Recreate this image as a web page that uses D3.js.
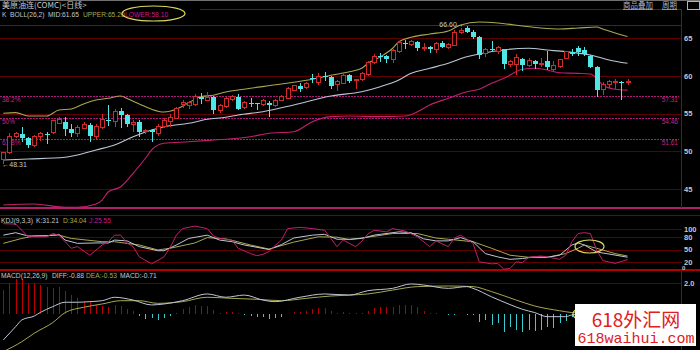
<!DOCTYPE html>
<html>
<head>
<meta charset="utf-8">
<script src="https://cdn.jsdelivr.net/npm/d3@7"></script>
<style>
  body { margin: 0; background: #000; }
  svg { display: block; font-family: "Liberation Sans", Arial, sans-serif; }
</style>
</head>
<body>
<div id="chart"></div>
<script>
// daily candles, [open, high, low, close]
var ohlc = [
  [48.85,49.9,48.31,49.8],[49.8,52.4,49.7,52.0],[51.9,52.6,51.7,52.3],[52.3,53.25,51.2,51.7],[51.7,51.9,50.4,50.85],
  [50.7,52.1,50.6,52.0],[52.0,52.5,51.3,52.35],[52.35,52.6,51.0,52.25],[52.45,54.2,52.3,54.05],[53.7,54.5,53.6,54.25],
  [53.9,54.5,52.0,52.95],[52.95,53.6,51.9,52.4],[52.3,53.5,51.9,53.2],[53.05,53.9,52.9,53.6],[53.5,53.7,51.2,52.0],
  [51.9,53.6,51.5,53.25],[53.2,54.9,53.0,54.25],[54.2,56.1,53.3,53.95],[53.9,55.6,53.2,55.3],[55.3,55.7,53.1,54.8],
  [54.8,55.0,53.2,53.6],[53.6,54.2,52.5,53.8],[53.9,54.2,51.9,52.6],[52.6,53.0,52.3,52.75],[52.75,52.9,51.2,52.6],
  [52.4,53.6,52.0,53.25],[53.25,54.4,53.1,54.05],[53.9,54.9,53.2,54.5],[54.4,55.9,54.3,55.7],[56.25,56.8,55.7,56.5],
  [56.1,56.7,55.6,56.4],[56.25,57.6,56.0,57.3],[57.2,57.7,56.3,56.9],[56.7,57.9,56.6,57.15],[57.15,57.3,55.0,55.4],
  [55.4,56.3,55.1,56.0],[55.9,57.2,55.7,56.95],[56.8,57.5,56.6,57.2],[57.2,57.6,55.4,55.6],[55.8,56.6,55.6,56.45],
  [56.45,57.0,55.9,56.4],[56.4,56.4,55.5,56.25],[56.15,56.9,56.0,56.7],[56.4,56.6,54.5,56.1],[56.0,56.9,55.9,56.7],
  [56.7,57.4,56.6,57.2],[57.05,58.5,57.0,58.3],[58.1,58.8,58.0,58.65],[58.6,59.0,57.8,58.3],[58.5,59.2,58.3,59.0],
  [59.65,60.2,59.0,59.55],[59.1,60.3,58.8,59.95],[59.95,60.5,59.3,59.9],[59.9,60.0,58.3,58.65],[58.8,59.4,58.0,59.2],
  [59.0,60.3,58.9,60.05],[60.05,60.2,59.0,59.35],[59.35,59.5,58.2,59.45],[59.45,60.5,59.3,60.25],[60.15,62.0,60.0,61.7],
  [61.7,62.9,61.5,62.6],[62.6,63.0,61.8,62.5],[62.55,62.7,61.7,62.2],[62.1,63.5,61.7,63.3],[63.2,64.6,63.0,64.4],
  [64.4,64.8,63.5,64.3],[64.1,64.8,64.0,64.5],[64.45,64.6,63.3,63.65],[63.65,64.3,63.3,63.75],[63.8,63.9,63.0,63.5],
  [63.5,64.5,63.0,64.3],[64.3,64.6,63.7,63.8],[63.75,64.3,63.5,64.1],[64.0,66.0,63.9,65.7],[65.7,66.3,65.5,66.05],
  [66.3,66.6,65.6,65.75],[65.8,66.0,64.9,65.1],[65.1,65.2,62.2,62.75],[62.9,63.7,62.5,63.5],[63.55,64.6,63.1,63.45],
  [63.25,63.9,62.9,63.75],[63.5,63.6,60.85,61.55],[61.45,62.1,61.2,61.85],[61.45,62.9,60.1,62.45],[62.2,62.3,60.6,61.45],
  [61.4,62.3,61.2,62.0],[62.0,62.1,60.9,61.6],[61.5,62.4,61.1,61.6],[61.9,63.3,60.8,61.1],[60.85,62.0,60.6,61.3],
  [61.2,62.2,61.0,62.1],[62.3,63.3,62.2,63.2],[63.2,63.6,62.6,62.9],[63.65,63.9,62.6,63.2],[63.4,63.8,62.6,62.9],
  [62.6,62.7,61.0,61.2],[61.2,61.3,57.2,58.1],[58.2,59.2,57.45,58.9],[58.8,59.4,58.4,59.2],[59.15,59.6,58.3,59.25],
  [59.2,59.25,56.8,59.1],[59.15,59.6,58.8,59.25]
];

// BOLL(26,2) bands, [bar index, value]
var bollUpper = [[0,55.03],[2,55.11],[4,54.67],[7,54.67],[9,55.46],[11,55.6],[13,56.26],[15,56.79],[17,57.01],[19,57.32],
  [20,57.0],[22,56.26],[24,55.56],[26,55.2],[28,55.56],[30,56.43],[32,57.23],[34,57.41],[36,57.85],[38,58.11],
  [45,58.91],[50,59.53],[53,60.06],[56,60.54],[58,60.99],[59,61.65],[61,62.5],[63,63.64],[64,64.5],[66,65.09],
  [69,65.53],[72,65.93],[74,66.72],[77,67.12],[80,66.99],[84,66.59],[87,66.32],[90,66.19],[93,66.32],[96,66.46],
  [97,66.19],[99,65.66],[101,65.2]];
var bollMid = [[0,48.84],[4,48.97],[10,49.2],[12,49.5],[15,50.17],[18,50.83],[21,51.93],[24,52.81],[26,53.25],[30,53.7],
  [33,54.23],[36,54.5],[38,54.8],[42,55.24],[47,56.13],[53,57.32],[58,57.89],[61,58.55],[64,59.44],[66,60.32],
  [69,60.99],[72,61.65],[75,62.52],[77,62.88],[80,63.32],[85,63.64],[88,63.41],[91,63.19],[95,62.75],[98,62.09],[101,61.65]];
var bollLower = [[0,42.88],[5,43.01],[10,42.58],[12,42.58],[15,43.01],[16,43.54],[17,44.64],[19,45.3],[21,47.08],[23,49.07],
  [24,50.17],[26,51.05],[30,51.26],[34,51.49],[38,51.72],[40,51.93],[43,52.38],[47,52.59],[50,53.91],[53,54.58],
  [56,54.67],[61,54.58],[65,54.67],[67,55.24],[69,56.13],[72,57.01],[75,57.89],[77,58.21],[79,59.0],[81,59.66],
  [84,60.85],[86,60.99],[88,60.76],[90,60.4],[93,60.32],[95,60.23],[96,59.66],[97,58.77],[99,58.21],[101,58.1]];

// Fibonacci retracement levels
var fibPct = ["38.2%", "50%", "61.8%"];
var fibVal = [57.31, 54.46, 51.61];

// KDJ(9,3,3), [bar index, value]
var kdjK = [[0,85],[2,91],[4,83],[7,83],[9,87],[10,73],[12,65],[15,66],[17,66],[18,73],[20,71],[22,57],[25,47],[26,47],
  [28,61],[30,77],[33,85],[35,73],[37,69],[39,61],[43,50],[45,62],[47,78],[50,85],[52,87],[54,75],[56,75],[58,77],
  [60,85],[61,87],[64,93],[66,91],[68,76],[70,71],[72,71],[74,79],[76,69],[78,40],[80,32],[82,26],[84,28],[86,32],
  [88,31],[90,36],[92,61],[93,66],[94,61],[96,44],[98,39],[101,31.21]];
var kdjD = [[0,65],[3,77],[5,83],[9,85],[11,77],[16,69],[18,69],[22,61],[25,49],[27,53],[31,66],[33,79],[36,76],
  [40,61],[43,51],[47,68],[51,81],[54,80],[56,74],[59,80],[63,89],[67,89],[70,78],[72,75],[76,69],[79,53],[82,36],
  [85,31],[88,31],[91,40],[93,53],[94,61],[96,53],[99,40],[101,34.04]];
var kdjJ = [[0,113],[2,112],[3,97],[4,81],[7,81],[8,89],[9,85],[11,53],[12,57],[14,36],[16,61],[17,69],[18,85],[19,85],
  [20,66],[21,57],[22,32],[24,15],[26,32],[27,55],[28,85],[29,101],[31,107],[33,101],[34,83],[35,77],[37,73],[38,53],
  [40,40],[41,35],[42,38],[43,45],[44,60],[45,73],[46,101],[48,104],[50,101],[52,97],[53,77],[54,57],[55,73],[57,57],
  [58,70],[59,88],[60,97],[62,93],[63,101],[65,95],[67,81],[69,57],[70,71],[72,57],[73,78],[74,85],[75,75],[76,65],
  [77,20],[79,15],[80,16],[81,2],[82,4],[83,20],[84,18],[85,31],[87,34],[88,32],[90,26],[91,36],[92,69],[93,89],
  [94,91],[95,89],[96,49],[97,23],[99,16],[101,25.55]];

// MACD(12,26,9)
var macdDiff = [[0,-1.66],[2,-0.81],[3,-0.38],[5,-0.13],[6,0.1],[8,0.47],[10,0.75],[12,0.75],[14,0.79],[16,0.85],
  [18,1.07],[21,0.89],[24,0.58],[26,0.64],[29,0.85],[33,1.28],[36,1.07],[39,1.21],[42,0.89],[44,0.79],[48,1.07],
  [52,1.28],[56,1.21],[59,1.49],[63,1.64],[66,1.92],[68,1.85],[72,1.64],[75,1.75],[76,1.64],[79,1.1],[82,0.6],
  [84,0.3],[86,0.09],[88,-0.17],[91,-0.17],[92,-0.06],[94,0.0],[95,-0.1],[96,-0.4],[98,-0.65],[101,-0.88]];
var macdDea = [[0,-2.4],[3,-1.77],[5,-1.23],[8,-0.55],[10,0.09],[13,0.43],[16,0.64],[19,0.85],[22,0.85],[25,0.68],
  [29,0.79],[33,1.07],[37,1.0],[41,0.94],[45,0.85],[49,1.0],[53,1.15],[56,1.21],[59,1.28],[63,1.53],[67,1.75],
  [72,1.79],[76,1.75],[79,1.43],[83,0.89],[86,0.51],[90,0.21],[92,0.09],[95,0.0],[98,-0.3],[101,-0.53]];
var macdHist = [1.53,2.0,2.22,2.22,2.0,1.96,1.85,1.7,1.64,1.75,1.49,1.21,1.0,0.85,0.79,0.58,0.51,0.47,0.58,0.51,
  0.3,0.17,-0.13,-0.34,-0.28,-0.38,-0.28,-0.13,0.09,0.3,0.43,0.58,0.51,0.51,0.26,0.09,0.13,0.15,0.04,-0.09,
  -0.13,-0.21,-0.21,-0.3,-0.28,-0.17,0.02,0.13,0.15,0.21,0.3,0.36,0.36,0.21,0.09,0.13,0.06,0.04,0.06,0.21,
  0.36,0.43,0.43,0.47,0.6,0.6,0.6,0.43,0.21,0.09,0.04,0.02,-0.09,-0.04,-0.02,-0.06,-0.04,-0.49,-0.38,-0.7,
  -0.55,-1.13,-0.81,-1.02,-1.13,-1.02,-1.06,-1.02,-0.85,-0.92,-0.6,-0.43,-0.17,-0.05,0.03,-0.1,-0.35,-0.5,-0.58,-0.64,
  -0.69,-0.71];

var priceTicks = [45, 50, 55, 60, 65];
var kdjTicks = [0, 20, 50, 80, 100];
var macdTicks = [2];

// colours
var grid = "#5c0000", border = "#a00000", upCol = "#d02a2a", downCol = "#4ee6e6";
var yel = "#a8a852", pale = "#bcc6d4", mag = "#c0206e", label = "#c4c8cc";

var W = 700, H = 350, axisX = 681.5;

var svg = d3.select("#chart").append("svg")
  .attr("width", W).attr("height", H)
  .style("background", "#000");

var x = d3.scaleLinear().domain([0, ohlc.length - 1]).range([3.3, 627.5]);
var yP = d3.scaleLinear().domain([45, 65]).range([189, 38]);
var yK = d3.scaleLinear().domain([0, 100]).range([270, 229]);
var yM = d3.scaleLinear().domain([0, 2]).range([314, 282.7]);

function px(v) { return Math.round(v) + 0.5; }

// ---- frame and grid lines
var frame = svg.append("g").attr("shape-rendering", "crispEdges");
frame.append("line").attr("x1", 0).attr("x2", W).attr("y1", 0.5).attr("y2", 0.5).attr("stroke", "#707070");
frame.append("line").attr("x1", 200).attr("x2", axisX).attr("y1", 9.5).attr("y2", 9.5).attr("stroke", border);
frame.append("line").attr("x1", 0).attr("x2", axisX).attr("y1", 25.5).attr("y2", 25.5).attr("stroke", border);
frame.selectAll(".pg").data(priceTicks).join("line")
  .attr("x1", 0).attr("x2", axisX).attr("y1", d => px(yP(d))).attr("y2", d => px(yP(d)))
  .attr("stroke", grid);
frame.append("line").attr("x1", 0).attr("x2", W).attr("y1", 208).attr("y2", 208).attr("stroke", "#b0206a").attr("stroke-width", 2);
frame.append("line").attr("x1", 0).attr("x2", W).attr("y1", 215.5).attr("y2", 215.5).attr("stroke", "#800000");
frame.selectAll(".kg").data(kdjTicks.filter(d => d > 0)).join("line")
  .attr("x1", 0).attr("x2", axisX).attr("y1", d => px(yK(d))).attr("y2", d => px(yK(d)))
  .attr("stroke", grid);
frame.append("line").attr("x1", 0).attr("x2", W).attr("y1", 270).attr("y2", 270).attr("stroke", "#b00000").attr("stroke-width", 2);
frame.selectAll(".mg").data(macdTicks).join("line")
  .attr("x1", 0).attr("x2", axisX).attr("y1", d => px(yM(d))).attr("y2", d => px(yM(d)))
  .attr("stroke", grid);
frame.append("line").attr("x1", axisX).attr("x2", axisX).attr("y1", 9).attr("y2", 208).attr("stroke", border);
frame.append("line").attr("x1", axisX).attr("x2", axisX).attr("y1", 270).attr("y2", H).attr("stroke", border);

// ---- fibonacci dotted levels
var fib = svg.append("g");
fib.selectAll("line").data(fibVal).join("line")
  .attr("x1", 0).attr("x2", 679).attr("y1", d => px(yP(d))).attr("y2", d => px(yP(d)))
  .attr("stroke", "#b0187e").attr("stroke-dasharray", "1.5,1.5").attr("shape-rendering", "crispEdges");
fib.selectAll(".fl").data(fibPct).join("text")
  .attr("x", 2).attr("y", (d, i) => yP(fibVal[i]) + 6)
  .attr("fill", "#c0288a").attr("font-size", "6.5px").text(d => d);
fib.selectAll(".fr").data(fibVal).join("text")
  .attr("x", 678).attr("y", d => yP(d) + 6).attr("text-anchor", "end")
  .attr("fill", "#c0288a").attr("font-size", "6.5px").text(d => d.toFixed(2));

// ---- bollinger bands
function bandLine(sc) {
  return d3.line().x(d => x(d[0])).y(d => sc(d[1])).curve(d3.curveMonotoneX);
}
svg.append("path").attr("d", bandLine(yP)(bollUpper)).attr("fill", "none").attr("stroke", yel).attr("stroke-width", 1.1);
svg.append("path").attr("d", bandLine(yP)(bollMid)).attr("fill", "none").attr("stroke", pale).attr("stroke-width", 1.1);
svg.append("path").attr("d", bandLine(yP)(bollLower)).attr("fill", "none").attr("stroke", mag).attr("stroke-width", 1.1);

// ---- candles
var cg = svg.append("g").attr("shape-rendering", "crispEdges");
var candle = cg.selectAll("g").data(ohlc).join("g");
candle.append("line")
  .attr("x1", (d, i) => px(x(i))).attr("x2", (d, i) => px(x(i)))
  .attr("y1", d => yP(d[1])).attr("y2", d => yP(d[2]))
  .attr("stroke", d => d[3] >= d[0] ? upCol : downCol);
candle.append("rect")
  .attr("x", (d, i) => d[3] >= d[0] ? Math.round(x(i)) - 1.5 : Math.round(x(i)) - 2)
  .attr("width", d => d[3] >= d[0] ? 4 : 5)
  .attr("y", d => yP(Math.max(d[0], d[3])))
  .attr("height", d => Math.max(1, Math.abs(yP(d[0]) - yP(d[3]))))
  .attr("fill", d => d[3] >= d[0] ? "#000" : downCol)
  .attr("stroke", d => d[3] >= d[0] ? upCol : "none");

// high / low markers
var hiIdx = d3.maxIndex(ohlc, d => d[1]), loIdx = d3.minIndex(ohlc, d => d[2]);
svg.append("text").attr("x", x(hiIdx) - 3).attr("y", yP(ohlc[hiIdx][1]) + 1)
  .attr("text-anchor", "end").attr("fill", label).attr("font-size", "7px")
  .text(ohlc[hiIdx][1].toFixed(2) + "\u2192");
svg.append("text").attr("x", x(loIdx) - 1).attr("y", yP(ohlc[loIdx][2]) + 2.5)
  .attr("fill", label).attr("font-size", "7px")
  .text("\u2190" + ohlc[loIdx][2].toFixed(2));

// ---- KDJ
function kLine(sc) { return d3.line().x(d => x(d[0])).y(d => sc(d[1])); }
svg.append("path").attr("d", kLine(yK)(kdjD)).attr("fill", "none").attr("stroke", yel).attr("stroke-width", 1);
svg.append("path").attr("d", kLine(yK)(kdjK)).attr("fill", "none").attr("stroke", pale).attr("stroke-width", 1);
svg.append("path").attr("d", kLine(yK)(kdjJ)).attr("fill", "none").attr("stroke", mag).attr("stroke-width", 1);

// ---- MACD
svg.append("g").attr("shape-rendering", "crispEdges")
  .selectAll("line").data(macdHist).join("line")
  .attr("x1", (d, i) => px(x(i))).attr("x2", (d, i) => px(x(i)))
  .attr("y1", yM(0)).attr("y2", d => yM(d))
  .attr("stroke", d => d >= 0 ? "#b80000" : "#3ccad2");
svg.append("path").attr("d", bandLine(yM)(macdDea)).attr("fill", "none").attr("stroke", yel).attr("stroke-width", 1);
svg.append("path").attr("d", bandLine(yM)(macdDiff)).attr("fill", "none").attr("stroke", pale).attr("stroke-width", 1);

// ---- right axes
function styleAxis(g) {
  g.select(".domain").remove();
  g.selectAll("text").attr("fill", label).attr("font-size", "7.5px").attr("font-weight", "bold");
}
svg.append("g").attr("transform", "translate(684,0)")
  .call(d3.axisRight(yP).tickValues(priceTicks).tickSize(0).tickPadding(0).tickFormat(d3.format("d")))
  .call(styleAxis);
var kAxis = svg.append("g").attr("transform", "translate(684,0)")
  .call(d3.axisRight(yK).tickValues(kdjTicks).tickSize(0).tickPadding(0).tickFormat(d3.format("d")))
  .call(styleAxis);
// the "0" label sits just under "20", squeezed above the panel border
kAxis.selectAll(".tick").filter(d => d === 0).attr("transform", "translate(-2," + (yK(0) - 2) + ")")
  .select("text").attr("font-size", "6px");
svg.append("g").attr("transform", "translate(684,0)")
  .call(d3.axisRight(yM).tickValues(macdTicks).tickSize(0).tickPadding(0).tickFormat(d3.format(".1f")))
  .call(styleAxis);

// ---- titles
var t = svg.append("g").attr("font-size", "6.7px");
t.append("text").attr("x", 2).attr("y", 8).attr("fill", label).attr("font-size", "8px")
  .attr("font-family", "'Noto Sans CJK SC', sans-serif").text("美原油连(COMC)<日线>");
var tb = t.append("text").attr("y", 17);
tb.append("tspan").attr("x", 2).attr("fill", label).text("K");
tb.append("tspan").attr("x", 10).attr("fill", label).text("BOLL(26,2)");
tb.append("tspan").attr("x", 48).attr("fill", label).text("MID:61.65");
tb.append("tspan").attr("x", 83).attr("fill", yel).text("UPPER:65.20");
tb.append("tspan").attr("x", 125).attr("fill", "#d0188a").text("LOWER:58.10");

var tk = t.append("text").attr("y", 223);
tk.append("tspan").attr("x", 1).attr("fill", label).text("KDJ(9,3,3)");
tk.append("tspan").attr("x", 36).attr("fill", label).text("K:31.21");
tk.append("tspan").attr("x", 63).attr("fill", yel).text("D:34.04");
tk.append("tspan").attr("x", 89).attr("fill", "#d0188a").text("J:25.55");

var tm = t.append("text").attr("y", 278);
tm.append("tspan").attr("x", 1).attr("fill", label).text("MACD(12,26,9)");
tm.append("tspan").attr("x", 52).attr("fill", label).text("DIFF:-0.88");
tm.append("tspan").attr("x", 86).attr("fill", yel).text("DEA:-0.53");
tm.append("tspan").attr("x", 120).attr("fill", label).text("MACD:-0.71");

// toolbar buttons (top right)
var tools = svg.append("g").attr("font-size", "7.5px").attr("font-family", "'Noto Sans CJK SC', sans-serif").attr("fill", "#a8b4d0");
tools.append("text").attr("x", 623).attr("y", 8).text("商品叠加").attr("text-decoration", "underline");
tools.append("text").attr("x", 662).attr("y", 8).text("周期").attr("text-decoration", "underline");
tools.append("rect").attr("x", 687.5).attr("y", 1.5).attr("width", 12).attr("height", 8).attr("fill", "none").attr("stroke", "#a8b4d0");

// ---- yellow annotation circles
var ann = svg.append("g").attr("fill", "none").attr("stroke", "#d8d860").attr("stroke-width", 1.2);
ann.append("ellipse").attr("cx", 153.5).attr("cy", 13.5).attr("rx", 31.5).attr("ry", 7.5);
ann.append("ellipse").attr("cx", 589.5).attr("cy", 246.5).attr("rx", 14.5).attr("ry", 6.5);
ann.append("ellipse").attr("cx", 578).attr("cy", 314).attr("rx", 5).attr("ry", 4.5);

// ---- watermark box
var wm = svg.append("g");
wm.append("rect").attr("x", 575).attr("y", 304).attr("width", 121).attr("height", 42).attr("fill", "#fff");
wm.append("text").attr("x", 636).attr("y", 327).attr("text-anchor", "middle").attr("fill", "#e0201e")
  .attr("font-size", "19px").attr("font-family", "'Noto Sans CJK SC', sans-serif").text("618外汇网");
wm.append("text").attr("x", 636).attr("y", 343).attr("text-anchor", "middle").attr("fill", "#e0201e")
  .attr("font-size", "15px").attr("font-family", "'Liberation Mono', monospace").text("618waihui.com");
</script>
</body>
</html>
